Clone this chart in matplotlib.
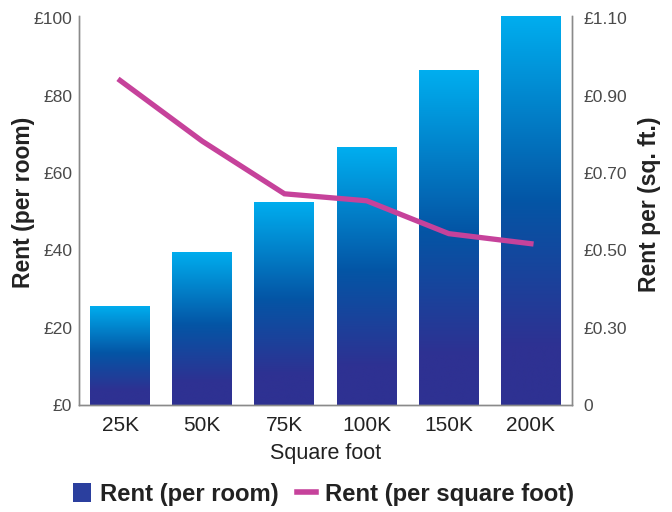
import matplotlib
matplotlib.use("Agg")
import matplotlib.pyplot as plt
import numpy as np
from matplotlib.colors import LinearSegmentedColormap
from matplotlib.patches import Patch
from matplotlib.lines import Line2D

plt.rcParams["font.family"] = ["Liberation Sans", "DejaVu Sans"]

categories = ["25K", "50K", "75K", "100K", "150K", "200K"]
rentPerRoom = [25.7, 39.6, 52.5, 66.7, 86.5, 100.6]
rentPerSqFt = [0.939, 0.782, 0.646, 0.628, 0.543, 0.517]

leftTicks = [0, 20, 40, 60, 80, 100]
leftTickLabels = ["£0", "£20", "£40", "£60", "£80", "£100"]
rightTicks = [0.10, 0.30, 0.50, 0.70, 0.90, 1.10]
rightTickLabels = ["0", "£0.30", "£0.50", "£0.70", "£0.90", "£1.10"]

# colours
barCmap = LinearSegmentedColormap.from_list(
    "rentBars", [(0.0, "#2E3192"), (0.15, "#2E3192"), (0.52, "#0455A5"), (1.0, "#00AEEF")])
lineColour = "#C6429B"
legendBarColour = "#2B3F9E"
spineColour = "#8a8a8a"

fig = plt.figure(figsize = (6.72, 5.12), dpi = 100, facecolor = "white")
ax = fig.add_axes([0.1176, 0.209, 0.7336, 0.760])

x = np.arange(len(categories))
bars = ax.bar(x, rentPerRoom, width = 0.73, facecolor = "none", edgecolor = "none")

# vertical gradient per bar
gradient = np.linspace(0, 1, 256).reshape(-1, 1)
for patch in bars.patches:
    x0 = patch.get_x()
    x1 = x0 + patch.get_width()
    h = patch.get_height()
    img = ax.imshow(gradient, extent = [x0, x1, 0, h], origin = "lower", aspect = "auto",
                    cmap = barCmap, zorder = 1, interpolation = "bilinear")
    img.set_clip_path(patch)

ax.set_xlim(-0.5, len(categories) - 0.5)
ax.set_ylim(0, 100.6)
ax.set_yticks(leftTicks)
ax.set_yticklabels(leftTickLabels)
ax.set_xticks(x)
ax.set_xticklabels(categories)
ax.tick_params(axis = "y", length = 0, labelsize = 12.5, labelcolor = "#4a4a4a", pad = 5)
ax.tick_params(axis = "x", length = 0, labelsize = 15, labelcolor = "#222222", pad = 8)
ax.set_xlabel("Square foot", fontsize = 15.5, color = "#222222", labelpad = 6)
ax.set_ylabel("Rent (per room)", fontsize = 16.5, fontweight = "bold", color = "#222222")
ax.yaxis.set_label_coords(-0.089, 0.52)

# right axis: per square foot
ax2 = ax.twinx()
ax2.plot(x, rentPerSqFt, color = lineColour, linewidth = 3.8, solid_joinstyle = "miter", zorder = 3)
ax2.set_ylim(0.10, 0.10 + 1.006)
ax2.set_yticks(rightTicks)
ax2.set_yticklabels(rightTickLabels)
ax2.tick_params(axis = "y", length = 0, labelsize = 12.5, labelcolor = "#4a4a4a", pad = 8)
ax2.set_ylabel("Rent per (sq. ft.)", fontsize = 16.5, fontweight = "bold", color = "#222222")
ax2.yaxis.set_label_coords(1.133, 0.515)

for a in [ax, ax2]:
    a.spines["top"].set_visible(False)
    for side in ["left", "right", "bottom"]:
        a.spines[side].set_color(spineColour)
        a.spines[side].set_linewidth(1.0)

handles = [Patch(facecolor = legendBarColour, edgecolor = "none"),
           Line2D([0], [0], color = lineColour, linewidth = 4)]
fig.legend(handles, ["Rent (per room)", "Rent (per square foot)"], loc = "center",
           bbox_to_anchor = (0.481, 0.034), ncol = 2, frameon = False,
           prop = {"size": 17.2, "weight": "bold"}, handlelength = 0.78, handleheight = 0.85,
           handletextpad = 0.38, columnspacing = 0.75, labelcolor = "#222222")

fig.savefig("out.png", dpi = 100, facecolor = "white")
